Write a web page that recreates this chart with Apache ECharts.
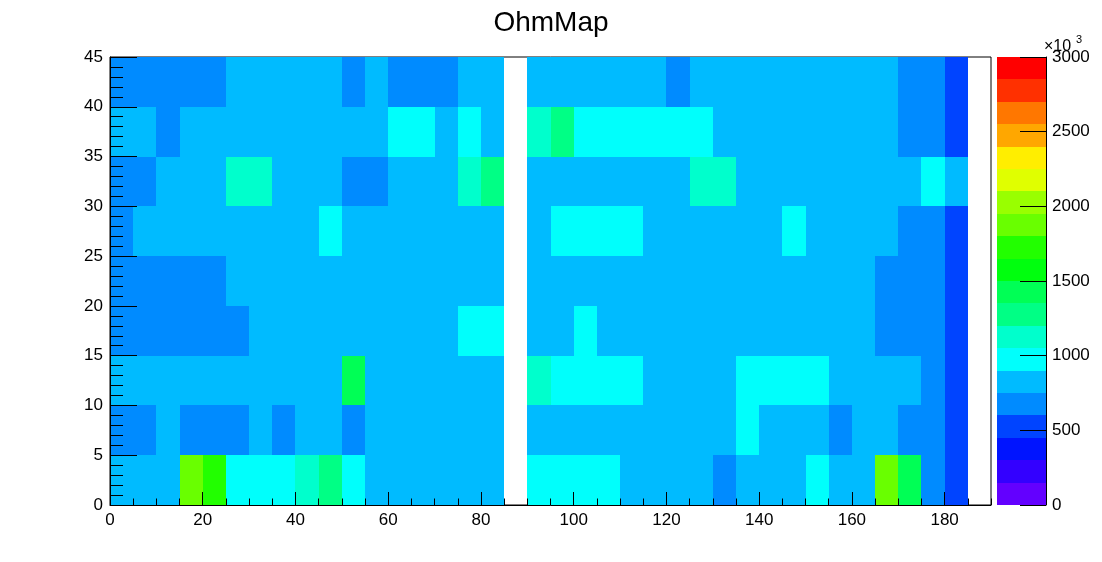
<!DOCTYPE html>
<html>
<head>
<meta charset="utf-8">
<script src="https://cdn.jsdelivr.net/npm/echarts@6/dist/echarts.min.js"></script>
<style>
html,body{margin:0;padding:0;background:#fff;}
#chart{width:1102px;height:562px;}
</style>
</head>
<body>
<div id="chart"></div>
<script>
// ---------------- data ----------------
const chartTitle = 'OhmMap';
const binWidthX = 5;
const binWidthY = 5;
const xBinStarts = [0,5,10,15,20,25,30,35,40,45,50,55,60,65,70,75,80,85,90,95,100,105,110,115,120,125,130,135,140,145,150,155,160,165,170,175,180,185];
const yRowStarts = [0,5,10,15,20,25,30,35,40];

// one array per y row (values per x bin, null = empty bin)
const row0  = [830,830,830,1870,1720,970,970,970,1120,1280,970,830,830,830,830,830,830,null,970,970,970,970,830,830,830,830,680,830,830,830,970,830,830,1870,1420,680,530,null];
const row5  = [680,680,830,680,680,680,830,680,830,830,680,830,830,830,830,830,830,null,830,830,830,830,830,830,830,830,830,970,830,830,830,680,830,830,680,680,530,null];
const row10 = [830,830,830,830,830,830,830,830,830,830,1420,830,830,830,830,830,830,null,1120,970,970,970,970,830,830,830,830,970,970,970,970,830,830,830,830,680,530,null];
const row15 = [680,680,680,680,680,680,830,830,830,830,830,830,830,830,830,970,970,null,830,830,970,830,830,830,830,830,830,830,830,830,830,830,830,680,680,680,530,null];
const row20 = [680,680,680,680,680,830,830,830,830,830,830,830,830,830,830,830,830,null,830,830,830,830,830,830,830,830,830,830,830,830,830,830,830,680,680,680,530,null];
const row25 = [680,830,830,830,830,830,830,830,830,970,830,830,830,830,830,830,830,null,830,970,970,970,970,830,830,830,830,830,830,970,830,830,830,830,680,680,530,null];
const row30 = [680,680,830,830,830,1120,1120,830,830,830,680,680,830,830,830,1120,1280,null,830,830,830,830,830,830,830,1120,1120,830,830,830,830,830,830,830,830,970,830,null];
const row35 = [830,830,680,830,830,830,830,830,830,830,830,830,970,970,830,970,830,null,1120,1280,970,970,970,970,970,970,830,830,830,830,830,830,830,830,680,680,530,null];
const row40 = [680,680,680,680,680,830,830,830,830,830,680,830,680,680,680,830,830,null,830,830,830,830,830,830,680,830,830,830,830,830,830,830,830,830,680,680,530,null];
const rows = [row0,row5,row10,row15,row20,row25,row30,row35,row40];

// palette (20 contour levels, 0 .. 3000)
const paletteLevels = [0,150,300,450,600,750,900,1050,1200,1350,1500,1650,1800,1950,2100,2250,2400,2550,2700,2850,3000];
const paletteColors = ['#6300ff','#3300ff','#0014ff','#0044ff','#008bff','#00bbff','#00fffc','#00ffcc','#00ff85','#00ff55',
                       '#00ff0e','#22ff00','#69ff00','#99ff00','#e0ff00','#ffee00','#ffa700','#ff7700','#ff3000','#ff0000'];
const zExponentLabel = '×10';
const zExponent = '3';

// ---------------- build ----------------
function colorFor(v) {
  for (let i = 0; i < paletteColors.length; i++) {
    if (v >= paletteLevels[i] && v < paletteLevels[i + 1]) return paletteColors[i];
  }
  return paletteColors[paletteColors.length - 1];
}

const cellData = [];
rows.forEach((r, ri) => {
  r.forEach((v, ci) => {
    if (v !== null) cellData.push([xBinStarts[ci], yRowStarts[ri], v]);
  });
});
const paletteData = paletteColors.map((c, i) => [paletteLevels[i], paletteLevels[i + 1], i]);

const FONT = '"Liberation Sans", Arial, Helvetica, sans-serif';
const chart = echarts.init(document.getElementById('chart'), null, {renderer: 'canvas'});

const G = {left: 110, top: 57, width: 881, height: 448};
const plain = v => String(v);

const option = {
  animation: false,
  backgroundColor: '#fff',
  title: {
    text: chartTitle, left: 'center', top: 4,
    textStyle: {fontSize: 28, fontWeight: 'normal', color: '#000', fontFamily: FONT}
  },
  grid: [
    {left: G.left, top: G.top, width: G.width, height: G.height, show: true, borderColor: '#000', borderWidth: 1, backgroundColor: 'transparent'},
    {left: 997, top: G.top, width: 49, height: G.height, show: false},
    {left: G.left, top: G.top, width: G.width, height: G.height, show: false}
  ],
  xAxis: [
    {
      gridIndex: 0, type: 'value', min: 0, max: 190, interval: 20, position: 'bottom', z: 10,
      axisLine: {show: true, onZero: false, lineStyle: {color: '#000', width: 1}},
      axisTick: {show: true, inside: true, length: 13, lineStyle: {color: '#000', width: 1}},
      axisLabel: {show: true, margin: 7, fontSize: 17, color: '#000', fontFamily: FONT, showMaxLabel: false, formatter: plain},
      splitLine: {show: false}
    },
    {gridIndex: 1, type: 'value', min: 0, max: 1, show: false},
    {
      gridIndex: 2, type: 'value', min: 0, max: 190, interval: 5, position: 'bottom', z: 10,
      axisLine: {show: false},
      axisTick: {show: true, inside: true, length: 6.5, lineStyle: {color: '#000', width: 1}},
      axisLabel: {show: false},
      splitLine: {show: false}
    }
  ],
  yAxis: [
    {
      gridIndex: 0, type: 'value', min: 0, max: 45, interval: 5, position: 'left', z: 10,
      axisLine: {show: true, onZero: false, lineStyle: {color: '#000', width: 1}},
      axisTick: {show: true, inside: true, length: 27, lineStyle: {color: '#000', width: 1}},
      minorTick: {show: true, splitNumber: 5, length: 13, lineStyle: {color: '#000', width: 1}},
      axisLabel: {show: true, margin: 7, fontSize: 17, color: '#000', fontFamily: FONT, formatter: plain},
      splitLine: {show: false}, minorSplitLine: {show: false}
    },
    {
      gridIndex: 1, type: 'value', min: 0, max: 3000, interval: 500, position: 'right', z: 10,
      axisLine: {show: true, onZero: false, lineStyle: {color: '#000', width: 1}},
      axisTick: {show: true, inside: true, length: 26, lineStyle: {color: '#000', width: 1}},
      axisLabel: {show: true, margin: 6, fontSize: 17, color: '#000', fontFamily: FONT, formatter: plain},
      splitLine: {show: false}
    },
    {gridIndex: 2, type: 'value', min: 0, max: 45, show: false}
  ],
  graphic: [
    {type: 'text', left: 1044, top: 39, z: 20, style: {text: zExponentLabel, fontSize: 16, fill: '#000', fontFamily: FONT}},
    {type: 'text', left: 1076, top: 34, z: 20, style: {text: zExponent, fontSize: 11, fill: '#000', fontFamily: FONT}}
  ],
  series: [
    {
      type: 'custom', xAxisIndex: 0, yAxisIndex: 0, z: 2,
      encode: {x: 0, y: 1},
      data: cellData,
      renderItem: function (params, api) {
        const x0 = api.value(0), y0 = api.value(1), v = api.value(2);
        const a = api.coord([x0, y0 + binWidthY]);
        const b = api.coord([x0 + binWidthX, y0]);
        const x = Math.round(a[0]), y = Math.round(a[1]);
        return {type: 'rect', shape: {x: x, y: y, width: Math.round(b[0]) - x, height: Math.round(b[1]) - y},
                style: {fill: colorFor(v)}};
      }
    },
    {
      type: 'custom', xAxisIndex: 1, yAxisIndex: 1, z: 2,
      encode: {y: [0, 1]},
      data: paletteData,
      renderItem: function (params, api) {
        const lo = api.value(0), hi = api.value(1), idx = api.value(2);
        const a = api.coord([0, hi]);
        const b = api.coord([1, lo]);
        const x = Math.round(a[0]), y = Math.round(a[1]);
        return {type: 'rect', shape: {x: x, y: y, width: Math.round(b[0]) - x, height: Math.round(b[1]) - y},
                style: {fill: paletteColors[idx]}};
      }
    }
  ]
};
chart.setOption(option);
</script>
</body>
</html>
